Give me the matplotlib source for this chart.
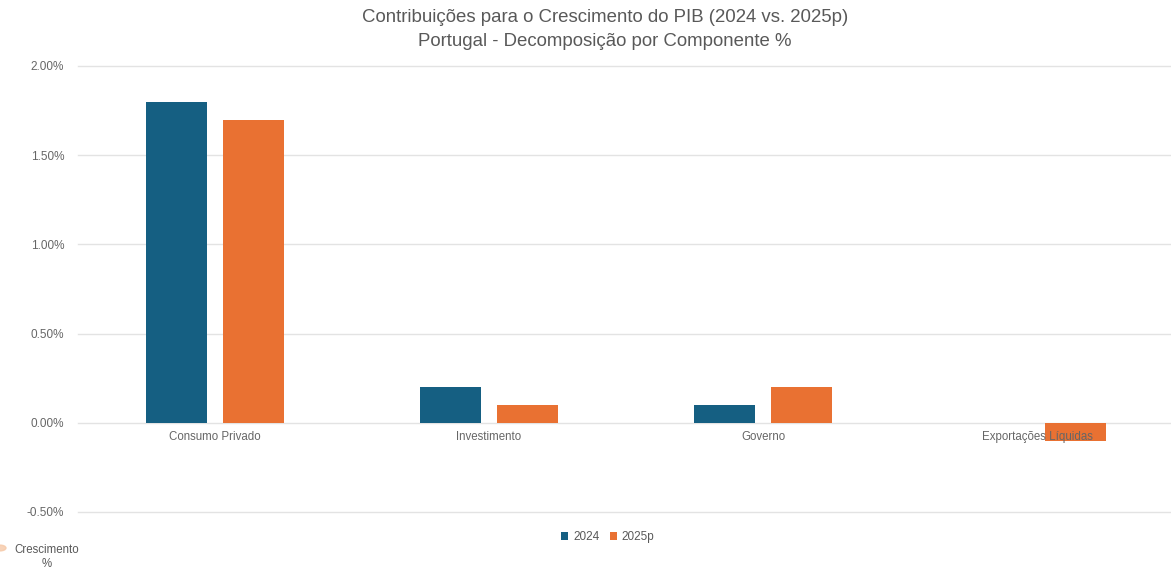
import matplotlib
matplotlib.use("Agg")
import matplotlib.pyplot as plt
import numpy as np
from matplotlib.patches import Circle

categories = ["Consumo Privado", "Investimento", "Governo", "Exportações Líquidas"]
series_names = ["2024", "2025p"]
values_2024 = [1.8, 0.2, 0.1, 0.0]
values_2025p = [1.7, 0.1, 0.2, -0.1]
yticks = [-0.5, 0.0, 0.5, 1.0, 1.5, 2.0]

colors = ["#155F82", "#E97132"]
text_color = "#595959"

plt.rcParams['font.family'] = ['Liberation Sans', 'DejaVu Sans']

fig = plt.figure(figsize=(11.71, 5.70), dpi=100)
ax = fig.add_axes([78/1171, 1 - 512/570, (1174-78)/1171, (512-66)/570])

x = np.arange(len(categories))
w = 0.223
off = 0.141
ax.bar(x - off, values_2024, width=w, color=colors[0], label=series_names[0], zorder=2)
ax.bar(x + off, values_2025p, width=w, color=colors[1], label=series_names[1], zorder=2)

ax.set_xlim(-0.5, len(categories) - 0.5)
ax.set_ylim(-0.5, 2.0)
ax.set_yticks(yticks)
ax.set_yticklabels([f"{v:.2f}%" for v in yticks])
ax.yaxis.grid(True, color="#E3E3E3", linewidth=1, zorder=0)
for gl in ax.get_ygridlines():
    gl.set_clip_on(False)
ax.set_axisbelow(True)
for s in ax.spines.values():
    s.set_visible(False)
ax.tick_params(axis='y', length=0, labelsize=8.5, colors="#666666", pad=10)
ax.set_xticks([])

# category labels at zero line
for xi, c in zip(x, categories):
    ax.text(xi, -0.045, c, ha='center', va='top',
            fontsize=8.3, color="#666666", zorder=3)

fig.text(605/1171, 1 - 18/570, "Contribuições para o Crescimento do PIB (2024 vs. 2025p)",
         ha='center', va='center', fontsize=13.4, color=text_color)
fig.text(605/1171, 1 - 42/570, "Portugal - Decomposição por Componente %",
         ha='center', va='center', fontsize=13.4, color=text_color)

leg = fig.legend(loc='center', bbox_to_anchor=(608/1171, 1 - 537/570), ncol=2,
                 frameon=False, fontsize=8.5, handlelength=0.6, handleheight=0.6,
                 handletextpad=0.4, columnspacing=0.9)
for t in leg.get_texts():
    t.set_color(text_color)

fig.text(47/1171, 1 - 550/570, "Crescimento", ha='center', va='center',
         fontsize=8.3, color=text_color)
fig.text(47/1171, 1 - 564/570, "%", ha='center', va='center',
         fontsize=8.3, color=text_color)
fig.patches.append(Circle((0, 1 - 548/570), 6/1171, transform=fig.transFigure,
                          color="#F6C9A8", alpha=0.8))

fig.savefig("out.png", dpi=100)
